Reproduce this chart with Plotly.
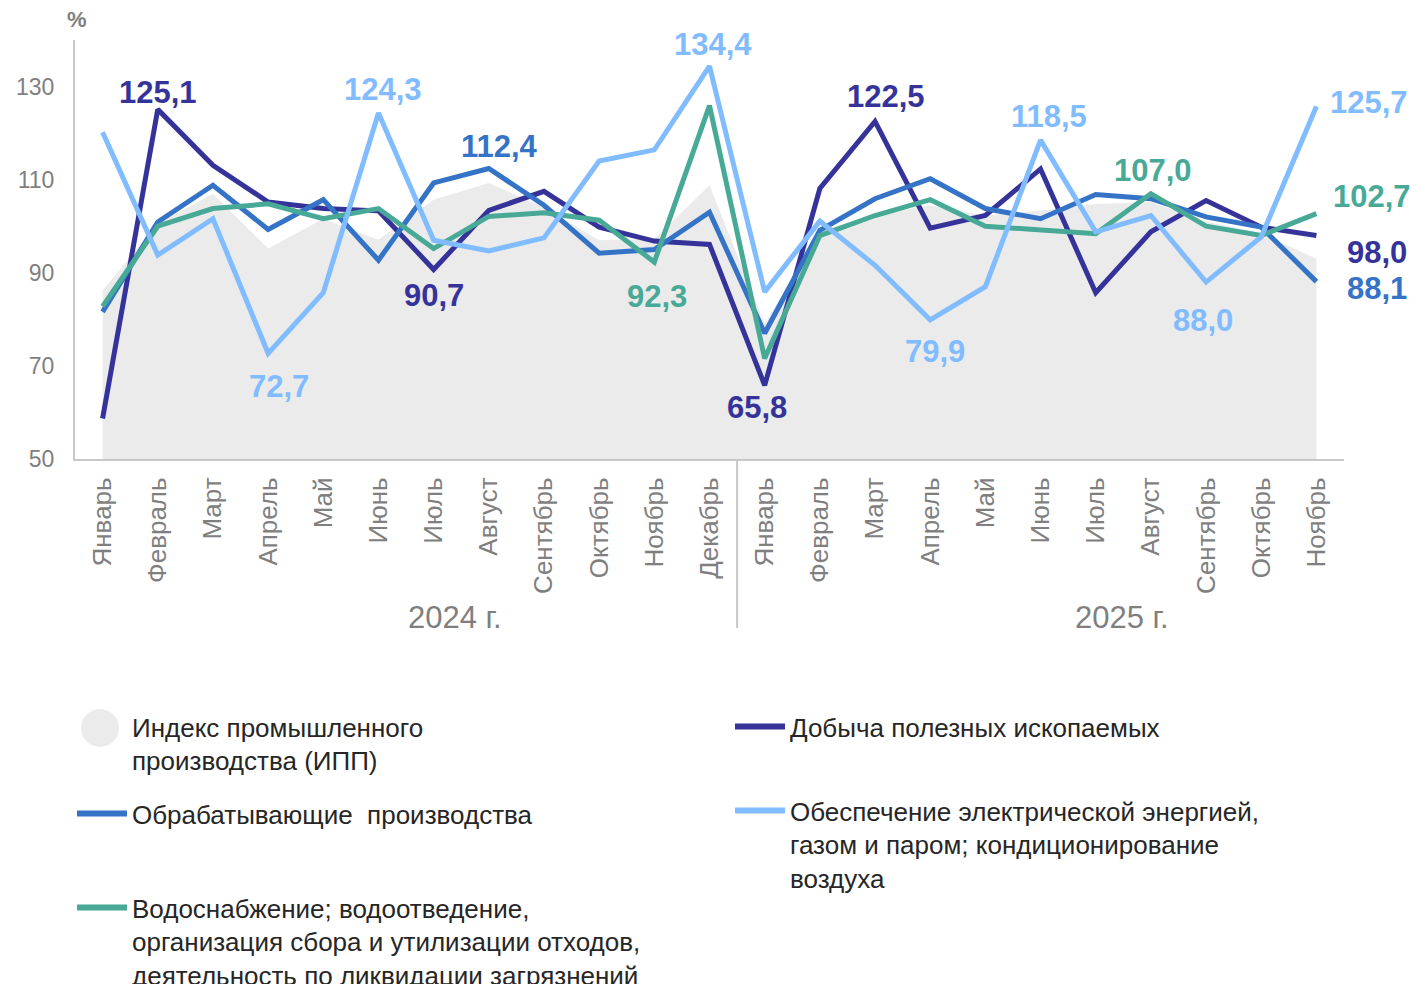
import plotly.graph_objects as go

months = ["Январь", "Февраль", "Март", "Апрель", "Май", "Июнь", "Июль", "Август",
          "Сентябрь", "Октябрь", "Ноябрь", "Декабрь",
          "Январь", "Февраль", "Март", "Апрель", "Май", "Июнь", "Июль", "Август",
          "Сентябрь", "Октябрь", "Ноябрь"]
years = ["2024 г.", "2025 г."]
y_ticks = [50, 70, 90, 110, 130]

ipp = [86.2, 100.6, 107.0, 95.2, 101.6, 97.1, 105.7, 109.3, 104.0, 97.0, 97.3, 108.8,
       79.0, 99.0, 102.5, 104.5, 102.3, 103.4, 104.8, 105.2, 101.0, 98.5, 93.0]
mining = [58.7, 125.1, 113.1, 105.2, 103.8, 103.3, 90.7, 103.4, 107.5, 99.8, 96.8, 96.1,
          65.8, 108.1, 122.5, 99.6, 102.3, 112.3, 85.7, 98.8, 105.5, 99.8, 98.0]
manuf = [81.6, 100.9, 108.8, 99.3, 105.7, 92.7, 109.3, 112.4, 104.5, 94.2, 95.0, 103.0,
         77.0, 99.1, 105.9, 110.2, 103.8, 101.6, 106.8, 105.9, 102.0, 99.8, 88.1]
elec = [120.2, 93.8, 101.6, 72.7, 85.7, 124.3, 97.0, 94.7, 97.5, 114.0, 116.4, 134.4,
        85.9, 101.1, 91.6, 79.9, 87.0, 118.5, 98.8, 102.3, 88.0, 97.7, 125.7]
water = [82.8, 100.0, 103.8, 104.8, 101.6, 103.8, 95.2, 102.1, 102.9, 101.3, 92.3, 125.9,
         71.6, 98.0, 102.3, 105.7, 100.0, 99.1, 98.4, 107.0, 100.0, 98.0, 102.7]

names = {
    "ipp": "Индекс промышленного<br>производства (ИПП)",
    "mining": "Добыча полезных ископаемых",
    "manuf": "Обрабатывающие  производства",
    "elec": "Обеспечение электрической энергией,<br>газом и паром; кондиционирование<br>воздуха",
    "water": "Водоснабжение; водоотведение,<br>организация сбора и утилизации отходов,<br>деятельность по ликвидации загрязнений",
}

C_MINING = "#35339A"
C_MANUF = "#3473C6"
C_ELEC = "#80BCFF"
C_WATER = "#48AA96"
C_IPP = "#EBEBEB"
C_GRAY = "#7F7F7F"
C_AXIS = "#C8C8C8"
FONT = "Arial, Liberation Sans, sans-serif"
W, H = 1417, 984
ML, MR, MT, MB = 75, 73, 40, 525
PW, PH = W - ML - MR, H - MT - MB


def px_to_paper(px, py):
    return (px - ML) / PW, (H - MB - py) / PH


x = list(range(len(months)))
series = {"mining": mining, "manuf": manuf, "elec": elec, "water": water}
colors = {"mining": C_MINING, "manuf": C_MANUF, "elec": C_ELEC, "water": C_WATER}

fig = go.Figure()
fig.add_trace(go.Scatter(x=x, y=ipp, mode="lines", fill="tozeroy", fillcolor=C_IPP,
                         line=dict(width=0, color=C_IPP), showlegend=False, hoverinfo="skip"))

# legend entries: each in its own legend box (pixel positions of box top-left)
legend_pos = {"ipp": ("legend", 72, 703), "mining": ("legend2", 730, 703),
              "manuf": ("legend3", 72, 790), "elec": ("legend4", 730, 787),
              "water": ("legend5", 72, 884)}
fig.add_trace(go.Scatter(x=[None], y=[None], mode="markers", name=names["ipp"],
                         legend=legend_pos["ipp"][0],
                         marker=dict(symbol="circle", size=16, color=C_IPP)))
for key in ["mining", "manuf", "elec", "water"]:
    fig.add_trace(go.Scatter(x=[None], y=[None], mode="lines", name=names[key],
                             legend=legend_pos[key][0],
                             line=dict(color=colors[key], width=6)))
for key in ["mining", "manuf", "water", "elec"]:
    fig.add_trace(go.Scatter(x=x, y=series[key], mode="lines", showlegend=False,
                             line=dict(color=colors[key], width=5)))

# big round swatch behind the IPP legend symbol
cx0, cy0 = px_to_paper(81, 747)
cx1, cy1 = px_to_paper(119, 709)
fig.add_shape(type="circle", xref="paper", yref="paper", x0=cx0, y0=cy0, x1=cx1, y1=cy1,
              fillcolor=C_IPP, line=dict(width=0), layer="below")

# data labels: (series, index, xshift, yshift)
labels = [
    ("mining", 1, 0, 17), ("elec", 5, 5, 24), ("elec", 3, 11, -33), ("mining", 6, 0, -26),
    ("manuf", 7, 11, 22), ("elec", 11, 3, 22), ("water", 10, 3, -34), ("mining", 12, -8, -22),
    ("mining", 14, 11, 25), ("elec", 15, 5, -32), ("elec", 17, 8, 24), ("water", 19, 2, 23),
    ("elec", 20, -3, -38), ("elec", 22, 53, 4), ("water", 22, 56, 17), ("mining", 22, 61, -17),
    ("manuf", 22, 61, -7),
]
for key, i, dx, dy in labels:
    v = series[key][i]
    fig.add_annotation(x=x[i], y=v, xref="x", yref="y", text="<b>%s</b>" % f"{v:.1f}".replace(".", ","),
                       showarrow=False, xshift=dx, yshift=dy,
                       font=dict(family=FONT, size=31, color=colors[key]))

px_, py_ = px_to_paper(77, 20)
fig.add_annotation(xref="paper", yref="paper", x=px_, y=py_, text="<b>%</b>", showarrow=False,
                   xanchor="center", yanchor="middle",
                   font=dict(family=FONT, size=22, color=C_GRAY))
for label, cxp in zip(years, [455, 1122]):
    ax_, ay_ = px_to_paper(cxp, 617)
    fig.add_annotation(xref="paper", yref="paper", x=ax_, y=ay_, text=label, showarrow=False,
                       xanchor="center", yanchor="middle",
                       font=dict(family=FONT, size=31, color=C_GRAY))

_, sep_y = px_to_paper(0, 628)
fig.add_shape(type="line", xref="x", yref="paper", x0=11.5, x1=11.5, y0=0, y1=sep_y,
              line=dict(color=C_AXIS, width=2))

legend_common = dict(orientation="h", xref="container", yref="container",
                     xanchor="left", yanchor="top", valign="top", itemwidth=50,
                     font=dict(family=FONT, size=26, color="#262626"),
                     bgcolor="rgba(0,0,0,0)", borderwidth=0)
legends = {}
for key, (lname, lx, ly) in legend_pos.items():
    legends[lname] = dict(legend_common, x=lx / W, y=1 - ly / H)

fig.update_layout(
    width=W, height=H,
    margin=dict(l=ML, r=MR, t=MT, b=MB),
    paper_bgcolor="white", plot_bgcolor="white",
    font=dict(family=FONT, color=C_GRAY),
    xaxis=dict(range=[-0.5, len(months) - 0.5], tickvals=x, ticktext=months, tickangle=-90,
               showgrid=False, zeroline=False, showline=True, linecolor=C_AXIS, linewidth=2,
               ticks="", ticklabelstandoff=6, tickfont=dict(size=26, color=C_GRAY)),
    yaxis=dict(range=[50, 140], tickvals=y_ticks, showgrid=False, zeroline=False,
               showline=True, linecolor=C_AXIS, linewidth=2, ticks="",
               ticklabelstandoff=14, tickfont=dict(size=23, color=C_GRAY)),
    showlegend=True,
    **legends,
)

fig.write_html("out.html", config={"displayModeBar": False},
               post_script="document.body.style.margin='0px';")
